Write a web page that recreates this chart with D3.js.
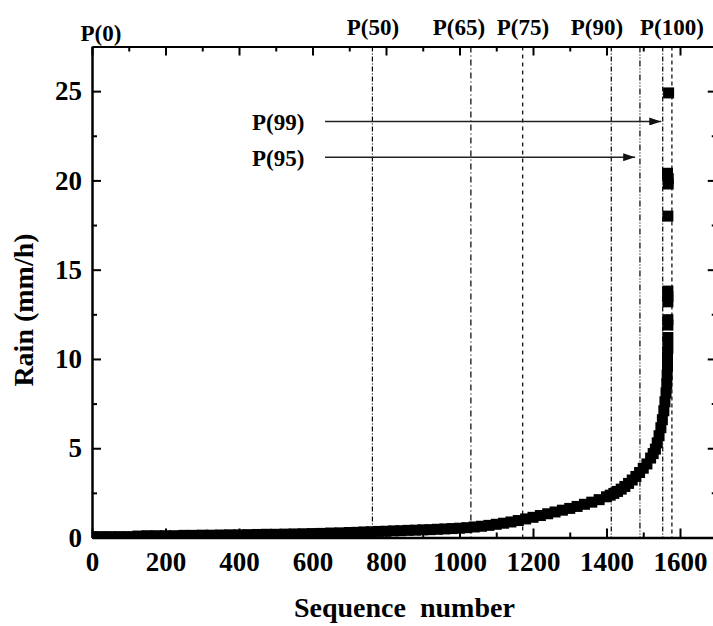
<!DOCTYPE html>
<html>
<head>
<meta charset="utf-8">
<script src="https://cdn.jsdelivr.net/npm/d3@7"></script>
<style>
  body { margin: 0; background: #fff; }
  svg { display: block; }
  text { font-family: "Liberation Serif", "Times New Roman", serif; font-weight: bold; fill: #000; }
</style>
</head>
<body>
<svg id="chart" width="713" height="626"></svg>
<script>
// sorted rain rate against its sequence number
var seqNo = [0, 25, 50, 75, 100, 125, 150, 175, 200, 225, 250, 275, 300, 325, 350, 375, 400, 425, 450, 475,
  500, 525, 550, 575, 600, 625, 650, 675,
  700, 720, 740, 760, 780, 800, 820, 840, 860, 880, 900, 920, 940, 960, 980,
  1000, 1020, 1040, 1060, 1080, 1100, 1120, 1140, 1160, 1180, 1200, 1220, 1240, 1260, 1280,
  1300, 1320, 1340, 1360, 1380, 1400, 1410, 1420, 1430, 1440, 1450, 1460, 1470, 1480, 1490,
  1500, 1510, 1520, 1527, 1533, 1538, 1543, 1548, 1552, 1556, 1559, 1562, 1564, 1565, 1566,
  1566, 1567, 1567, 1567, 1567, 1567, 1567, 1567, 1567, 1568, 1568, 1566, 1569];
var rain = [0.05, 0.05, 0.05, 0.05, 0.05, 0.08, 0.1, 0.1, 0.1, 0.1, 0.12, 0.12, 0.13, 0.13, 0.14, 0.15, 0.15, 0.16, 0.17, 0.18,
  0.18, 0.19, 0.2, 0.21, 0.22, 0.23, 0.25, 0.26,
  0.28, 0.29, 0.31, 0.32, 0.34, 0.35, 0.37, 0.38, 0.4, 0.41, 0.43, 0.44, 0.46, 0.48, 0.5,
  0.52, 0.55, 0.59, 0.63, 0.68, 0.74, 0.8, 0.87, 0.95, 1.04, 1.13, 1.23, 1.33, 1.43, 1.53,
  1.63, 1.74, 1.86, 1.98, 2.12, 2.28, 2.37, 2.47, 2.58, 2.71, 2.86, 3.03, 3.22, 3.42, 3.64,
  3.88, 4.12, 4.45, 4.7, 4.95, 5.3, 5.7, 6.15, 6.6, 7.1, 7.6, 8.1, 8.6, 9.1, 9.6,
  10.1, 10.6, 11.2, 11.9, 12.2, 13.2, 13.5, 13.8, 18.0, 19.8, 20.1, 20.4, 24.9, 25.0];

var xMajor = [0, 200, 400, 600, 800, 1000, 1200, 1400, 1600];
var xMinor = [100, 300, 500, 700, 900, 1100, 1300, 1500, 1700];
var yMajor = [0, 5, 10, 15, 20, 25];
var yMinor = [2.5, 7.5, 12.5, 17.5, 22.5];

// percentile positions on the sequence axis
var pctSeq = [763, 1031, 1172, 1413, 1491, 1553, 1578];
var pctDash = ["5,2,1,2", "6,3,1,3", "4,4", "5,2,1,2", "6,2,1,2,1,2", "5,2,1,2", "4,3"];
var topLabels = ["P(0)", "P(50)", "P(65)", "P(75)", "P(90)", "P(100)"];
var topLabelX = [101, 373, 459, 523, 597, 672];

// arrows for P(99) and P(95)
var arrowNames = ["P(99)", "P(95)"];
var arrowY = [23.3, 21.3];
var arrowSeq = [1549, 1478];

var svg = d3.select("#chart");
var pLeft = 92, pRight = 716.75, pTop = 46.5, pBottom = 537.5;

var x = d3.scaleLinear().domain([0, 1700]).range([pLeft, pRight]);
var y = d3.scaleLinear().domain([0, 27.5]).range([pBottom, pTop]);

var defs = svg.append("defs");
defs.append("clipPath").attr("id", "plotClip")
  .append("rect").attr("x", pLeft).attr("y", pTop)
  .attr("width", pRight - pLeft).attr("height", pBottom - pTop);

defs.append("marker").attr("id", "head")
  .attr("viewBox", "0 0 12 8").attr("refX", 12).attr("refY", 4)
  .attr("markerWidth", 12).attr("markerHeight", 8)
  .attr("markerUnits", "userSpaceOnUse").attr("orient", "auto")
  .append("path").attr("d", "M0,0 L12,4 L0,8 Z").attr("fill", "#111");

// percentile lines
svg.append("g").selectAll("line")
  .data(pctSeq)
  .enter().append("line")
  .attr("x1", function(d) { return x(d); })
  .attr("x2", function(d) { return x(d); })
  .attr("y1", pTop).attr("y2", pBottom)
  .attr("stroke", "#000").attr("stroke-width", 1.2)
  .attr("stroke-dasharray", function(d, i) { return pctDash[i]; });

// data squares
var pts = seqNo.map(function(s, i) { return { s: s, r: rain[i] }; });
var size = 11;
svg.append("g").attr("clip-path", "url(#plotClip)")
  .selectAll("rect")
  .data(pts)
  .enter().append("rect")
  .attr("x", function(d) { return x(d.s) - size / 2; })
  .attr("y", function(d) { return y(d.r) - size / 2; })
  .attr("width", size).attr("height", size)
  .attr("fill", "#000");

// axes
function styleAxis(g, w) {
  g.selectAll("line").attr("stroke", "#000").attr("stroke-width", 2);
  g.select(".domain").attr("stroke", "#000").attr("stroke-width", w);
  g.selectAll("text").style("font-size", "27px").attr("font-family", null);
}

var gx = svg.append("g").attr("transform", "translate(0," + pBottom + ")")
  .call(d3.axisBottom(x).tickValues(xMajor).tickSize(-9).tickSizeOuter(0).tickPadding(14).tickFormat(d3.format("d")));
styleAxis(gx, 2.5);
svg.append("g").attr("transform", "translate(0," + pBottom + ")")
  .call(d3.axisBottom(x).tickValues(xMinor).tickSize(-5).tickSizeOuter(0).tickFormat(""))
  .call(function(g) { g.select(".domain").remove(); styleAxis(g, 0); });

var gy = svg.append("g").attr("transform", "translate(" + pLeft + ",0)")
  .call(d3.axisLeft(y).tickValues(yMajor).tickSize(-9).tickSizeOuter(0).tickPadding(10).tickFormat(d3.format("d")));
styleAxis(gy, 2.5);
svg.append("g").attr("transform", "translate(" + pLeft + ",0)")
  .call(d3.axisLeft(y).tickValues(yMinor).tickSize(-5).tickSizeOuter(0).tickFormat(""))
  .call(function(g) { g.select(".domain").remove(); styleAxis(g, 0); });

var gt = svg.append("g").attr("transform", "translate(0," + pTop + ")")
  .call(d3.axisTop(x).tickValues(xMajor).tickSize(-9).tickSizeOuter(0).tickFormat(""));
styleAxis(gt, 2);
svg.append("g").attr("transform", "translate(0," + pTop + ")")
  .call(d3.axisTop(x).tickValues(xMinor).tickSize(-5).tickSizeOuter(0).tickFormat(""))
  .call(function(g) { g.select(".domain").remove(); styleAxis(g, 0); });

var gr = svg.append("g").attr("transform", "translate(" + pRight + ",0)")
  .call(d3.axisRight(y).tickValues(yMajor).tickSize(-9).tickSizeOuter(0).tickFormat(""));
styleAxis(gr, 2);
svg.append("g").attr("transform", "translate(" + pRight + ",0)")
  .call(d3.axisRight(y).tickValues(yMinor).tickSize(-5).tickSizeOuter(0).tickFormat(""))
  .call(function(g) { g.select(".domain").remove(); styleAxis(g, 0); });

// top percentile labels
svg.append("g").selectAll("text")
  .data(topLabels)
  .enter().append("text")
  .attr("x", function(d, i) { return topLabelX[i]; })
  .attr("y", function(d, i) { return i === 0 ? 41 : 35; })
  .attr("text-anchor", "middle")
  .style("font-size", "23px")
  .text(function(d) { return d; });

svg.append("g").selectAll("line")
  .data(arrowNames)
  .enter().append("line")
  .attr("x1", 325)
  .attr("x2", function(d, i) { return x(arrowSeq[i]); })
  .attr("y1", function(d, i) { return y(arrowY[i]); })
  .attr("y2", function(d, i) { return y(arrowY[i]); })
  .attr("stroke", "#222").attr("stroke-width", 1.5)
  .attr("marker-end", "url(#head)");
svg.append("g").selectAll("text")
  .data(arrowNames)
  .enter().append("text")
  .attr("x", 252)
  .attr("y", function(d, i) { return y(arrowY[i]) + 9; })
  .style("font-size", "23px")
  .text(function(d) { return d; });

// axis titles
svg.append("text")
  .attr("x", (pLeft + pRight) / 2).attr("y", 617)
  .attr("text-anchor", "middle")
  .style("font-size", "28px")
  .style("white-space", "pre")
  .text("Sequence  number");

svg.append("text")
  .attr("transform", "translate(33,310) rotate(-90)")
  .attr("text-anchor", "middle")
  .style("font-size", "28px")
  .text("Rain (mm/h)");
</script>
</body>
</html>
